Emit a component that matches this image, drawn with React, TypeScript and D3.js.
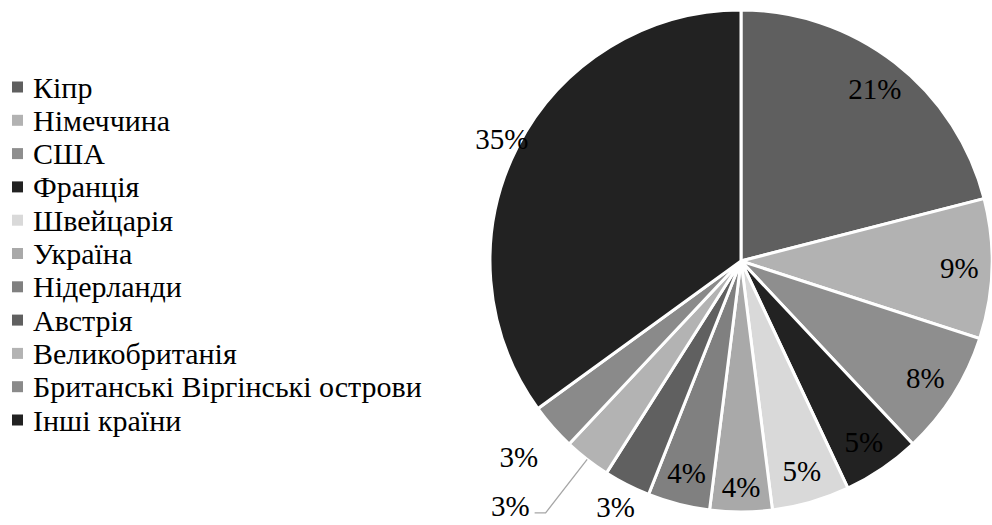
import React, { useEffect, useRef } from 'react';
import * as d3 from 'd3';

const countries = [
  'Кіпр',
  'Німеччина',
  'США',
  'Франція',
  'Швейцарія',
  'Україна',
  'Нідерланди',
  'Австрія',
  'Великобританія',
  'Британські Віргінські острови',
  'Інші країни',
];
const shares = [21, 9, 8, 5, 5, 4, 4, 3, 3, 3, 35];
const colors = [
  '#5f5f5f', '#b2b2b2', '#8e8e8e', '#222222', '#d9d9d9',
  '#a9a9a9', '#808080', '#606060', '#b3b3b3', '#8a8a8a', '#222222',
];

const W = 992;
const H = 525;
const FONT = "'Times New Roman', 'Liberation Serif', 'DejaVu Serif', serif";

const PieChart = () => {
  const ref = useRef<SVGSVGElement | null>(null);

  useEffect(() => {
    const svg = d3.select(ref.current);
    svg.selectAll('*').remove();

    const cx = 741;
    const cy = 261;
    const r = 251;

    const data = countries.map((name, i) => ({ name, value: shares[i], color: colors[i] }));

    const pie = d3.pie<any>().sort(null).value(d => d.value);
    const arcs = pie(data);
    const arc = d3.arc<any>().innerRadius(0).outerRadius(r);

    const g = svg.append('g').attr('transform', `translate(${cx},${cy})`);

    g.selectAll('path.slice')
      .data(arcs)
      .enter()
      .append('path')
      .attr('class', 'slice')
      .attr('d', arc)
      .attr('fill', d => d.data.color)
      .attr('stroke', '#fff')
      .attr('stroke-width', 3);

    // label placement: inside at ~0.87r, small tail slices outside
    const labelR = (name: string) => {
      if (name === 'Інші країни') return r * 1.07;
      if (name === 'Австрія') return r * 1.1;
      if (name === 'Британські Віргінські острови') return r * 1.18;
      if (name === 'Україна') return r * 0.9;
      return r * 0.87;
    };

    const pos = (d: any, rr: number) => {
      const a = (d.startAngle + d.endAngle) / 2;
      return [Math.sin(a) * rr, -Math.cos(a) * rr];
    };

    const fmt = (v: number) => `${v}%`;

    arcs.forEach(d => {
      if (d.data.name === 'Великобританія') {
        const a = (d.startAngle + d.endAngle) / 2;
        const p0 = [Math.sin(a) * r, -Math.cos(a) * r];
        const p1 = [Math.sin(a) * r * 1.27, -Math.cos(a) * r * 1.27];
        const p2 = [p1[0] - 11, p1[1]];
        g.append('path')
          .attr('d', d3.line()([p0, p1, p2] as any))
          .attr('fill', 'none')
          .attr('stroke', '#a6a6a6')
          .attr('stroke-width', 1.3);
        g.append('text')
          .attr('x', p2[0] - 5)
          .attr('y', p2[1])
          .attr('dy', '0.1em')
          .attr('text-anchor', 'end')
          .attr('font-family', FONT)
          .attr('font-size', 29)
          .attr('fill', '#000')
          .text(fmt(d.data.value));
        return;
      }
      const [x, y] = pos(d, labelR(d.data.name));
      g.append('text')
        .attr('x', x)
        .attr('y', y)
        .attr('dy', '0.35em')
        .attr('text-anchor', 'middle')
        .attr('font-family', FONT)
        .attr('font-size', 29)
        .attr('fill', '#000')
        .text(fmt(d.data.value));
    });

    // Legend
    const legend = svg.append('g').attr('transform', 'translate(12,87)');
    const step = 33.3;
    data.forEach((d, i) => {
      legend.append('rect')
        .attr('x', 0)
        .attr('y', i * step - 5.5)
        .attr('width', 11)
        .attr('height', 11)
        .attr('fill', d.color);
      legend.append('text')
        .attr('x', 21)
        .attr('y', i * step)
        .attr('dy', '0.35em')
        .attr('font-family', FONT)
        .attr('font-size', 30)
        .attr('fill', '#000')
        .text(d.name);
    });
  }, []);

  return (
    <svg
      ref={ref}
      width={W}
      height={H}
      style={{ position: 'absolute', left: 0, top: 0, background: '#fff' }}
    />
  );
};

export default function App() {
  return <PieChart />;
}
